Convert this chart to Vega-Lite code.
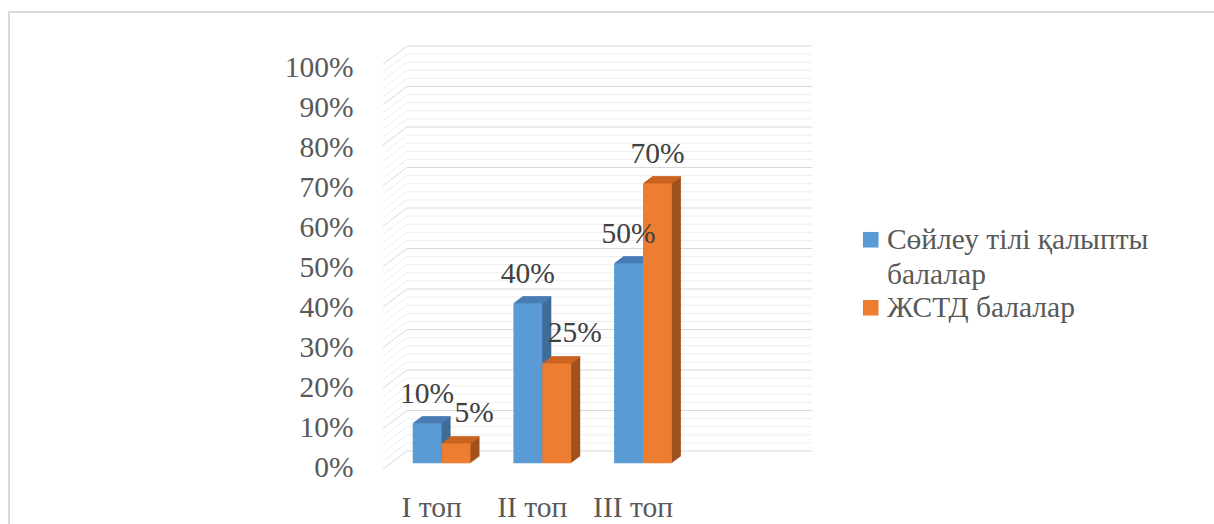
{
  "$schema": "https://vega.github.io/schema/vega-lite/v6.json",
  "width": 1206,
  "height": 522,
  "autosize": {"type": "none"},
  "padding": {"left": 9, "top": 12, "right": -1, "bottom": -10},
  "background": "#ffffff",
  "config": {
    "view": {"stroke": "#d9d9d9", "strokeWidth": 2},
    "font": "Liberation Serif",
    "style": {"guide-label": {"lineHeight": 35}}
  },
  "datasets": {
    "bars": [
      {"c": "I топ", "s": "Сөйлеу тілі қалыпты балалар", "v": 0.10},
      {"c": "I топ", "s": "ЖСТД балалар", "v": 0.05},
      {"c": "II топ", "s": "Сөйлеу тілі қалыпты балалар", "v": 0.40},
      {"c": "II топ", "s": "ЖСТД балалар", "v": 0.25},
      {"c": "III топ", "s": "Сөйлеу тілі қалыпты балалар", "v": 0.50},
      {"c": "III топ", "s": "ЖСТД балалар", "v": 0.70}
    ],
    "grid": [
      {"g": 0.00, "k": "major"}, {"g": 0.02, "k": "minor"}, {"g": 0.04, "k": "minor"}, {"g": 0.06, "k": "minor"}, {"g": 0.08, "k": "minor"},
      {"g": 0.10, "k": "major"}, {"g": 0.12, "k": "minor"}, {"g": 0.14, "k": "minor"}, {"g": 0.16, "k": "minor"}, {"g": 0.18, "k": "minor"},
      {"g": 0.20, "k": "major"}, {"g": 0.22, "k": "minor"}, {"g": 0.24, "k": "minor"}, {"g": 0.26, "k": "minor"}, {"g": 0.28, "k": "minor"},
      {"g": 0.30, "k": "major"}, {"g": 0.32, "k": "minor"}, {"g": 0.34, "k": "minor"}, {"g": 0.36, "k": "minor"}, {"g": 0.38, "k": "minor"},
      {"g": 0.40, "k": "major"}, {"g": 0.42, "k": "minor"}, {"g": 0.44, "k": "minor"}, {"g": 0.46, "k": "minor"}, {"g": 0.48, "k": "minor"},
      {"g": 0.50, "k": "major"}, {"g": 0.52, "k": "minor"}, {"g": 0.54, "k": "minor"}, {"g": 0.56, "k": "minor"}, {"g": 0.58, "k": "minor"},
      {"g": 0.60, "k": "major"}, {"g": 0.62, "k": "minor"}, {"g": 0.64, "k": "minor"}, {"g": 0.66, "k": "minor"}, {"g": 0.68, "k": "minor"},
      {"g": 0.70, "k": "major"}, {"g": 0.72, "k": "minor"}, {"g": 0.74, "k": "minor"}, {"g": 0.76, "k": "minor"}, {"g": 0.78, "k": "minor"},
      {"g": 0.80, "k": "major"}, {"g": 0.82, "k": "minor"}, {"g": 0.84, "k": "minor"}, {"g": 0.86, "k": "minor"}, {"g": 0.88, "k": "minor"},
      {"g": 0.90, "k": "major"}, {"g": 0.92, "k": "minor"}, {"g": 0.94, "k": "minor"}, {"g": 0.96, "k": "minor"}, {"g": 0.98, "k": "minor"},
      {"g": 1.00, "k": "major"}
    ]
  },
  "resolve": {"scale": {"x": "independent", "y": "independent"}},
  "layer": [
    {
      "description": "Back wall of the 3D plot: horizontal gridlines plus the slanted side-wall segments",
      "data": {"name": "grid"},
      "encoding": {
        "y": {"field": "g", "type": "quantitative", "scale": {"domain": [-0.2049, 1.08395], "zero": false, "nice": false}, "axis": null},
        "stroke": {"condition": {"test": "datum.k == 'major'", "value": "#d9d9d9"}, "value": "#ededed"}
      },
      "layer": [
        {
          "mark": {"type": "rule", "strokeWidth": 1},
          "encoding": {
            "x": {"datum": 0.652, "type": "quantitative", "scale": {"domain": [-3.3, 8.676], "zero": false, "nice": false}, "axis": null},
            "x2": {"datum": 4.674}
          }
        },
        {
          "mark": {"type": "rule", "strokeWidth": 1, "yOffset": 18.1, "y2Offset": 0},
          "encoding": {
            "x": {"datum": 0.414, "type": "quantitative"},
            "x2": {"datum": 0.652},
            "y2": {"field": "g"}
          }
        }
      ]
    },
    {
      "description": "Clustered 3D columns: extruded side faces, top faces, front faces and value labels",
      "data": {"name": "bars"},
      "resolve": {"scale": {"xOffset": "independent"}},
      "encoding": {
        "x": {
          "field": "c", "type": "nominal", "sort": ["I топ", "II топ", "III топ"],
          "scale": {"range": [403.7, 662.9], "paddingInner": 0.426, "paddingOuter": 0, "round": false},
          "axis": {
            "orient": "bottom", "offset": -17.5, "title": null, "domain": false, "ticks": false, "tickSize": 0,
            "labelPadding": 0, "labelBaseline": "alphabetic", "labelOffset": -10, "labelAngle": 0,
            "labelFont": "Liberation Serif", "labelFontSize": 29.5, "labelColor": "#595959", "grid": false
          }
        },
        "y": {
          "field": "v", "type": "quantitative",
          "scale": {"domain": [-0.17675, 1.12825], "zero": false, "nice": false},
          "axis": {
            "orient": "left", "offset": -374, "title": null, "domain": false, "ticks": false, "tickSize": 0, "grid": false,
            "values": [0, 0.1, 0.2, 0.3, 0.4, 0.5, 0.6, 0.7, 0.8, 0.9, 1.0], "format": ".0%",
            "labelPadding": 30, "labelOffset": 4, "labelFont": "Liberation Serif", "labelFontSize": 29.5, "labelColor": "#595959"
          }
        }
      },
      "layer": [
        {"mark": {"type": "bar", "yOffset": -0.75, "y2Offset": -0.75}, "encoding": {"xOffset": {"field": "s", "type": "nominal", "scale": {"domain": ["Сөйлеу тілі қалыпты балалар", "ЖСТД балалар"], "range": [1, 58.8], "paddingInner": 0, "paddingOuter": 0}}, "fill": {"condition": {"test": "datum.s == 'ЖСТД балалар'", "value": "#a0511d"}, "value": "#3f6b97"}}},
        {"mark": {"type": "bar", "yOffset": -1.5, "y2Offset": -1.5}, "encoding": {"xOffset": {"field": "s", "type": "nominal", "scale": {"domain": ["Сөйлеу тілі қалыпты балалар", "ЖСТД балалар"], "range": [2, 59.8], "paddingInner": 0, "paddingOuter": 0}}, "fill": {"condition": {"test": "datum.s == 'ЖСТД балалар'", "value": "#a0511d"}, "value": "#3f6b97"}}},
        {"mark": {"type": "bar", "yOffset": -2.25, "y2Offset": -2.25}, "encoding": {"xOffset": {"field": "s", "type": "nominal", "scale": {"domain": ["Сөйлеу тілі қалыпты балалар", "ЖСТД балалар"], "range": [3, 60.8], "paddingInner": 0, "paddingOuter": 0}}, "fill": {"condition": {"test": "datum.s == 'ЖСТД балалар'", "value": "#a0511d"}, "value": "#3f6b97"}}},
        {"mark": {"type": "bar", "yOffset": -3, "y2Offset": -3}, "encoding": {"xOffset": {"field": "s", "type": "nominal", "scale": {"domain": ["Сөйлеу тілі қалыпты балалар", "ЖСТД балалар"], "range": [4, 61.8], "paddingInner": 0, "paddingOuter": 0}}, "fill": {"condition": {"test": "datum.s == 'ЖСТД балалар'", "value": "#a0511d"}, "value": "#3f6b97"}}},
        {"mark": {"type": "bar", "yOffset": -3.75, "y2Offset": -3.75}, "encoding": {"xOffset": {"field": "s", "type": "nominal", "scale": {"domain": ["Сөйлеу тілі қалыпты балалар", "ЖСТД балалар"], "range": [5, 62.8], "paddingInner": 0, "paddingOuter": 0}}, "fill": {"condition": {"test": "datum.s == 'ЖСТД балалар'", "value": "#a0511d"}, "value": "#3f6b97"}}},
        {"mark": {"type": "bar", "yOffset": -4.5, "y2Offset": -4.5}, "encoding": {"xOffset": {"field": "s", "type": "nominal", "scale": {"domain": ["Сөйлеу тілі қалыпты балалар", "ЖСТД балалар"], "range": [6, 63.8], "paddingInner": 0, "paddingOuter": 0}}, "fill": {"condition": {"test": "datum.s == 'ЖСТД балалар'", "value": "#a0511d"}, "value": "#3f6b97"}}},
        {"mark": {"type": "bar", "yOffset": -5.25, "y2Offset": -5.25}, "encoding": {"xOffset": {"field": "s", "type": "nominal", "scale": {"domain": ["Сөйлеу тілі қалыпты балалар", "ЖСТД балалар"], "range": [7, 64.8], "paddingInner": 0, "paddingOuter": 0}}, "fill": {"condition": {"test": "datum.s == 'ЖСТД балалар'", "value": "#a0511d"}, "value": "#3f6b97"}}},
        {"mark": {"type": "bar", "yOffset": -6, "y2Offset": -6}, "encoding": {"xOffset": {"field": "s", "type": "nominal", "scale": {"domain": ["Сөйлеу тілі қалыпты балалар", "ЖСТД балалар"], "range": [8, 65.8], "paddingInner": 0, "paddingOuter": 0}}, "fill": {"condition": {"test": "datum.s == 'ЖСТД балалар'", "value": "#a0511d"}, "value": "#3f6b97"}}},
        {"mark": {"type": "bar", "yOffset": -6.75, "y2Offset": -6.75}, "encoding": {"xOffset": {"field": "s", "type": "nominal", "scale": {"domain": ["Сөйлеу тілі қалыпты балалар", "ЖСТД балалар"], "range": [9, 66.8], "paddingInner": 0, "paddingOuter": 0}}, "fill": {"condition": {"test": "datum.s == 'ЖСТД балалар'", "value": "#a0511d"}, "value": "#3f6b97"}}},
        {"mark": {"type": "bar", "yOffset": -1.05, "y2Offset": 0.1}, "encoding": {"y2": {"field": "v"}, "xOffset": {"field": "s", "type": "nominal", "scale": {"domain": ["Сөйлеу тілі қалыпты балалар", "ЖСТД балалар"], "range": [1, 58.8], "paddingInner": 0, "paddingOuter": 0}}, "fill": {"condition": {"test": "datum.s == 'ЖСТД балалар'", "value": "#cd6521"}, "value": "#4a7db6"}}},
        {"mark": {"type": "bar", "yOffset": -1.8, "y2Offset": -0.65}, "encoding": {"y2": {"field": "v"}, "xOffset": {"field": "s", "type": "nominal", "scale": {"domain": ["Сөйлеу тілі қалыпты балалар", "ЖСТД балалар"], "range": [2, 59.8], "paddingInner": 0, "paddingOuter": 0}}, "fill": {"condition": {"test": "datum.s == 'ЖСТД балалар'", "value": "#cd6521"}, "value": "#4a7db6"}}},
        {"mark": {"type": "bar", "yOffset": -2.55, "y2Offset": -1.4}, "encoding": {"y2": {"field": "v"}, "xOffset": {"field": "s", "type": "nominal", "scale": {"domain": ["Сөйлеу тілі қалыпты балалар", "ЖСТД балалар"], "range": [3, 60.8], "paddingInner": 0, "paddingOuter": 0}}, "fill": {"condition": {"test": "datum.s == 'ЖСТД балалар'", "value": "#cd6521"}, "value": "#4a7db6"}}},
        {"mark": {"type": "bar", "yOffset": -3.3, "y2Offset": -2.15}, "encoding": {"y2": {"field": "v"}, "xOffset": {"field": "s", "type": "nominal", "scale": {"domain": ["Сөйлеу тілі қалыпты балалар", "ЖСТД балалар"], "range": [4, 61.8], "paddingInner": 0, "paddingOuter": 0}}, "fill": {"condition": {"test": "datum.s == 'ЖСТД балалар'", "value": "#cd6521"}, "value": "#4a7db6"}}},
        {"mark": {"type": "bar", "yOffset": -4.05, "y2Offset": -2.9}, "encoding": {"y2": {"field": "v"}, "xOffset": {"field": "s", "type": "nominal", "scale": {"domain": ["Сөйлеу тілі қалыпты балалар", "ЖСТД балалар"], "range": [5, 62.8], "paddingInner": 0, "paddingOuter": 0}}, "fill": {"condition": {"test": "datum.s == 'ЖСТД балалар'", "value": "#cd6521"}, "value": "#4a7db6"}}},
        {"mark": {"type": "bar", "yOffset": -4.8, "y2Offset": -3.65}, "encoding": {"y2": {"field": "v"}, "xOffset": {"field": "s", "type": "nominal", "scale": {"domain": ["Сөйлеу тілі қалыпты балалар", "ЖСТД балалар"], "range": [6, 63.8], "paddingInner": 0, "paddingOuter": 0}}, "fill": {"condition": {"test": "datum.s == 'ЖСТД балалар'", "value": "#cd6521"}, "value": "#4a7db6"}}},
        {"mark": {"type": "bar", "yOffset": -5.55, "y2Offset": -4.4}, "encoding": {"y2": {"field": "v"}, "xOffset": {"field": "s", "type": "nominal", "scale": {"domain": ["Сөйлеу тілі қалыпты балалар", "ЖСТД балалар"], "range": [7, 64.8], "paddingInner": 0, "paddingOuter": 0}}, "fill": {"condition": {"test": "datum.s == 'ЖСТД балалар'", "value": "#cd6521"}, "value": "#4a7db6"}}},
        {"mark": {"type": "bar", "yOffset": -6.3, "y2Offset": -5.15}, "encoding": {"y2": {"field": "v"}, "xOffset": {"field": "s", "type": "nominal", "scale": {"domain": ["Сөйлеу тілі қалыпты балалар", "ЖСТД балалар"], "range": [8, 65.8], "paddingInner": 0, "paddingOuter": 0}}, "fill": {"condition": {"test": "datum.s == 'ЖСТД балалар'", "value": "#cd6521"}, "value": "#4a7db6"}}},
        {"mark": {"type": "bar", "yOffset": -7.05, "y2Offset": -5.9}, "encoding": {"y2": {"field": "v"}, "xOffset": {"field": "s", "type": "nominal", "scale": {"domain": ["Сөйлеу тілі қалыпты балалар", "ЖСТД балалар"], "range": [9, 66.8], "paddingInner": 0, "paddingOuter": 0}}, "fill": {"condition": {"test": "datum.s == 'ЖСТД балалар'", "value": "#cd6521"}, "value": "#4a7db6"}}},
        {
          "mark": {"type": "bar"},
          "encoding": {
            "xOffset": {"field": "s", "type": "nominal", "scale": {"domain": ["Сөйлеу тілі қалыпты балалар", "ЖСТД балалар"], "range": [0, 57.8], "paddingInner": 0, "paddingOuter": 0}},
            "color": {
              "field": "s", "type": "nominal",
              "scale": {"domain": ["Сөйлеу тілі қалыпты балалар", "ЖСТД балалар"], "range": ["#5b9bd5", "#ed7d31"]},
              "legend": {
                "orient": "none", "legendX": 847, "legendY": 213, "title": null, "padding": 0,
                "symbolType": "square", "symbolSize": 243, "symbolStrokeWidth": 0, "symbolOpacity": 1,
                "labelFont": "Liberation Serif", "labelFontSize": 29.5, "labelColor": "#595959", "labelLimit": 500, "labelOffset": 1.4,
                "labelExpr": "datum.label == 'Сөйлеу тілі қалыпты балалар' ? ['Сөйлеу тілі қалыпты', 'балалар'] : [datum.label]"
              }
            }
          }
        },
        {
          "transform": [{"filter": "!(datum.s == 'ЖСТД балалар' && datum.v < 0.5)"}],
          "mark": {"type": "text", "baseline": "middle", "align": "center", "dy": -29, "font": "Liberation Serif", "fontSize": 29.5, "color": "#404040"},
          "encoding": {
            "xOffset": {"field": "s", "type": "nominal", "scale": {"domain": ["Сөйлеу тілі қалыпты балалар", "ЖСТД балалар"], "range": [14.45, 43.35], "padding": 0}},
            "text": {"field": "v", "format": ".0%"}
          }
        },
        {
          "transform": [{"filter": "datum.s == 'ЖСТД балалар' && datum.v < 0.5"}],
          "mark": {"type": "text", "baseline": "middle", "align": "center", "dx": 18, "dy": -30, "font": "Liberation Serif", "fontSize": 29.5, "color": "#404040"},
          "encoding": {
            "xOffset": {"field": "s", "type": "nominal", "scale": {"domain": ["Сөйлеу тілі қалыпты балалар", "ЖСТД балалар"], "range": [14.45, 43.35], "padding": 0}},
            "text": {"field": "v", "format": ".0%"}
          }
        }
      ]
    }
  ]
}
